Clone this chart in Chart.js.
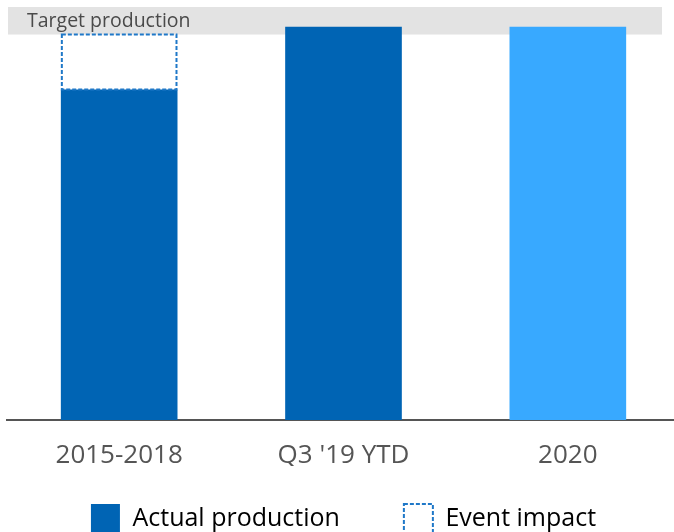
<!DOCTYPE html>
<html>
<head>
<meta charset="utf-8">
<script src="https://cdn.jsdelivr.net/npm/chart.js@4/dist/chart.umd.min.js"></script>
<style>
  html, body { margin: 0; padding: 0; background: #fff; overflow: hidden; }
  #wrap { width: 674px; height: 532px; overflow: hidden; }
</style>
</head>
<body>
<div id="wrap"><canvas id="production" width="680" height="543"></canvas></div>
<script>
const categories = ['2015-2018', "Q3 '19 YTD", '2020'];
const actualProduction = [84, 100, 100];
const eventImpact = [14, null, null];
const targetRange = [98, 105];
const legendLabels = ['Actual production', 'Event impact'];

const DARK_BLUE = '#0064B4';
const LIGHT_BLUE = '#38A9FF';
const DASH_BLUE = '#1F78C8';
const TEXT = '#555555';
const FONT = "'Open Sans', sans-serif";

// grey band for the target level, drawn behind the bars
const targetBand = {
    id: 'targetBand',
    beforeDatasetsDraw(chart) {
        const { ctx, chartArea, scales: { y } } = chart;
        const top = y.getPixelForValue(targetRange[1]);
        const bottom = y.getPixelForValue(targetRange[0]);
        const left = chartArea.left + 1;
        const right = chartArea.right - 18;
        ctx.save();
        ctx.fillStyle = '#E3E3E3';
        ctx.fillRect(left, top, right - left, bottom - top);
        ctx.fillStyle = '#4A4A4A';
        ctx.font = '19.5px ' + FONT;
        ctx.textBaseline = 'alphabetic';
        ctx.fillText('Target production', left + 19, top + 20);
        ctx.restore();
    }
};

// bars don't take a dash pattern, so outline the impact segment here
const dashedImpact = {
    id: 'dashedImpact',
    afterDatasetsDraw(chart) {
        const { ctx } = chart;
        const meta = chart.getDatasetMeta(1);
        ctx.save();
        ctx.strokeStyle = DASH_BLUE;
        ctx.lineWidth = 2;
        ctx.setLineDash([4, 2]);
        meta.data.forEach((bar, i) => {
            if (eventImpact[i] == null) return;
            const { x, y, base, width } = bar.getProps(['x', 'y', 'base', 'width'], true);
            ctx.strokeRect(x - width / 2 + 1, y, width - 2, base - y);
        });
        ctx.restore();
    }
};

new Chart(document.getElementById('production'), {
    type: 'bar',
    data: {
        labels: categories,
        datasets: [
            {
                label: legendLabels[0],
                data: actualProduction,
                backgroundColor: [DARK_BLUE, DARK_BLUE, LIGHT_BLUE],
                borderWidth: 0
            },
            {
                label: legendLabels[1],
                data: eventImpact,
                backgroundColor: 'rgba(0,0,0,0)',
                borderWidth: 0
            }
        ]
    },
    options: {
        responsive: false,
        animation: false,
        devicePixelRatio: 1,
        layout: { padding: { top: 7, left: 7, right: 0, bottom: 0 } },
        datasets: { bar: { categoryPercentage: 1, barPercentage: 0.52 } },
        scales: {
            x: {
                stacked: true,
                grid: { display: false },
                border: { color: TEXT, width: 2 },
                ticks: { color: TEXT, font: { family: FONT, size: 26 }, padding: 12 },
                // fixed axis height so the legend sits close under the labels
                afterFit(scale) { scale.height = 46; }
            },
            y: {
                stacked: true,
                display: false,
                min: 0,
                max: targetRange[1]
            }
        },
        plugins: {
            tooltip: { enabled: false },
            legend: {
                position: 'bottom',
                labels: {
                    color: TEXT,
                    font: { family: FONT, size: 25 },
                    boxWidth: 29,
                    boxHeight: 29,
                    padding: 38,
                    // trailing spaces widen the gap between the two entries
                    generateLabels: () => [
                        { text: legendLabels[0] + '    ', fillStyle: DARK_BLUE, strokeStyle: DARK_BLUE, lineWidth: 0, hidden: false, datasetIndex: 0 },
                        { text: legendLabels[1], fillStyle: 'rgba(0,0,0,0)', strokeStyle: DASH_BLUE, lineWidth: 2, lineDash: [4, 2], hidden: false, datasetIndex: 1 }
                    ]
                }
            }
        }
    },
    plugins: [targetBand, dashedImpact]
});
</script>
</body>
</html>
